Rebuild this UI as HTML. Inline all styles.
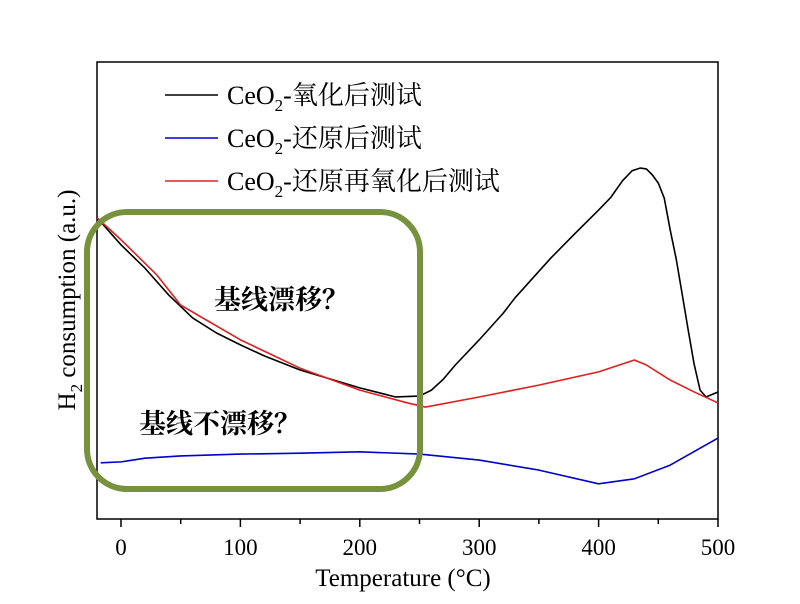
<!DOCTYPE html>
<html><head><meta charset="utf-8"><style>
body{margin:0;background:#fff}
text{font-family:"Liberation Serif","Noto Serif CJK SC",serif}
text.cjk{font-family:"Noto Serif CJK SC",serif}
</style></head><body>
<svg id="chart" width="800" height="599" xmlns="http://www.w3.org/2000/svg">
<rect x="97" y="62" width="621" height="457" fill="none" stroke="#000" stroke-width="1.5"/>
<g id="ticks"></g>
<g id="series"></g>
<text x="403" y="586" font-size="25" text-anchor="middle">Temperature (°C)</text>
<text transform="translate(75,300) rotate(-90)" font-size="25" text-anchor="middle">H<tspan font-size="17" dy="7">2</tspan><tspan dy="-7"> consumption (a.u.)</tspan></text>
<g>
<line x1="165" y1="95" x2="218" y2="95" stroke="#000" stroke-width="1.5"/>
<text x="227" y="104" font-size="26">CeO<tspan font-size="17" dy="7">2</tspan><tspan dy="-7">-氧化后测试</tspan></text>
<line x1="165" y1="138" x2="218" y2="138" stroke="#0000cc" stroke-width="1.5"/>
<text x="227" y="147" font-size="26">CeO<tspan font-size="17" dy="7">2</tspan><tspan dy="-7">-还原后测试</tspan></text>
<line x1="165" y1="181" x2="218" y2="181" stroke="#e02020" stroke-width="1.5"/>
<text x="227" y="190" font-size="26">CeO<tspan font-size="17" dy="7">2</tspan><tspan dy="-7">-还原再氧化后测试</tspan></text>
</g>
<rect x="87" y="212" width="333" height="277" rx="40" ry="40" fill="none" stroke="#76923c" stroke-width="6"/>
<text class="cjk" x="214" y="309" font-size="27" font-weight="bold">基线漂移？</text>
<text class="cjk" x="139" y="433" font-size="27" font-weight="bold">基线不漂移？</text>
</svg>
<script>
const xTicks=[0,50,100,150,200,250,300,350,400,450,500];
const xLabels=[0,100,200,300,400,500];
const blackT=[-20,0,20,40,60,80,100,120,150,200,230,250,260,270,280,300,320,330,360,380,400,410,420,428,435,440,445,450,455,460,465,470,475,480,485,490,500];
const blackV=[65.9,60.0,54.9,49.0,44.0,40.7,38.1,35.7,32.6,28.7,26.7,26.9,28.2,30.6,33.7,39.2,45.0,48.4,57.1,62.4,67.6,70.3,74.0,76.2,76.8,76.6,75.3,73.5,70.2,63.2,56.9,49.2,41.4,33.9,28.2,26.7,27.8];
const redT=[-20,0,30,50,100,150,200,240,255,300,350,400,430,440,460,480,500];
const redV=[65.9,61.1,53.4,46.8,39.2,33.0,28.2,25.4,24.5,26.7,29.3,32.2,34.8,33.7,30.4,27.8,25.4];
const blueT=[-17,0,10,20,50,100,150,200,250,300,350,400,430,460,500];
const blueV=[12.3,12.5,12.9,13.3,13.8,14.2,14.4,14.7,14.2,12.9,10.7,7.7,8.8,11.8,17.7];
const NS="http://www.w3.org/2000/svg";
const X=t=>121+t*(597/500);
const Y=v=>519-v*4.57;
const tg=document.getElementById('ticks');
xTicks.forEach(t=>{const l=document.createElementNS(NS,'line');
l.setAttribute('x1',X(t));l.setAttribute('x2',X(t));l.setAttribute('y1',519);l.setAttribute('y2',t%100===0?527:524);
l.setAttribute('stroke','#000');l.setAttribute('stroke-width','1.5');


tg.appendChild(l);});
xLabels.forEach(t=>{const tx=document.createElementNS(NS,'text');
tx.setAttribute('x',X(t));tx.setAttribute('y',555);tx.setAttribute('font-size','23');tx.setAttribute('text-anchor','middle');
tx.textContent=t;


tg.appendChild(tx);});
const sg=document.getElementById('series');
function draw(T,V,c,name){const p=document.createElementNS(NS,'polyline');
p.setAttribute('points',T.map((t,i)=>X(t)+','+Y(V[i])).join(' '));
p.setAttribute('fill','none');p.setAttribute('stroke',c);p.setAttribute('stroke-width','1.6');p.setAttribute('stroke-linejoin','round');


sg.appendChild(p);}
draw(blueT,blueV,'#0000cc','series-reduced');
draw(blackT,blackV,'#000','series-oxidized');
draw(redT,redV,'#e02020','series-reoxidized');
</script>
</body></html>
